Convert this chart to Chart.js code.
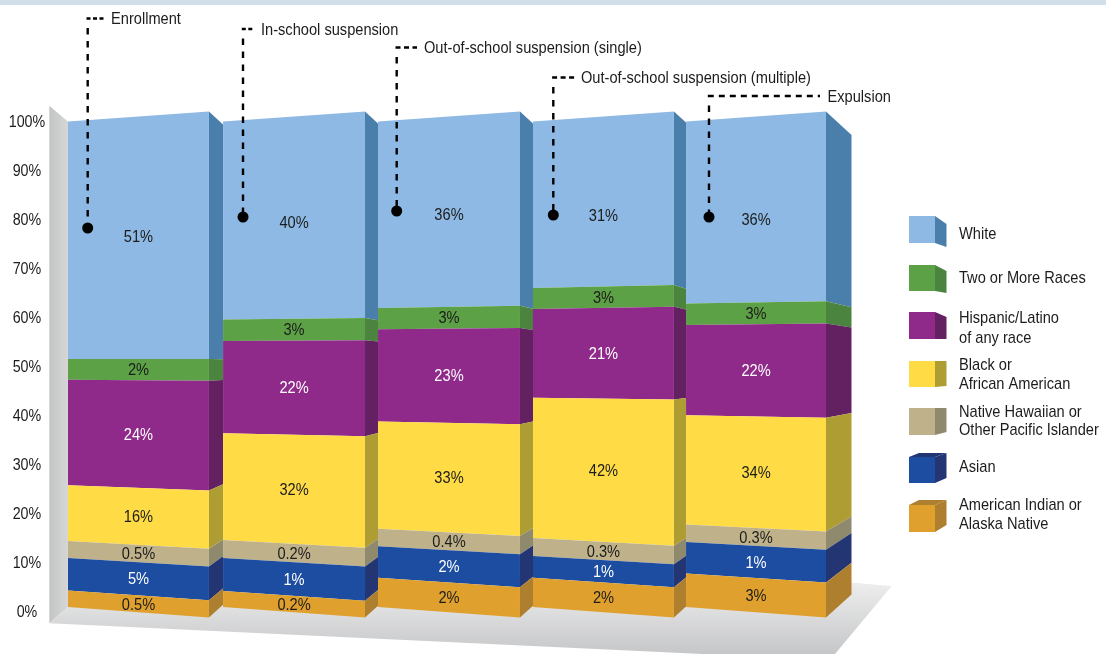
<!DOCTYPE html>
<html>
<head>
<meta charset="utf-8">
<style>
    html, body { margin: 0; padding: 0; background: #ffffff; }
    canvas { display: block; }
</style>
<script src="https://cdn.jsdelivr.net/npm/chart.js@4"></script>
</head>
<body>
<canvas id="chart" width="1106" height="654"></canvas>
<script>
const categories = ['Enrollment', 'In-school suspension', 'Out-of-school suspension (single)', 'Out-of-school suspension (multiple)', 'Expulsion'];

// drawn heights (the artwork does not follow its own printed percentages)
const americanIndian = [3.4, 3.3, 6.0, 6.0, 6.9];
const asian = [6.7, 6.8, 6.5, 4.5, 6.5];
const nativeHawaiian = [3.5, 3.7, 3.6, 3.7, 3.6];
const black = [11.5, 22.0, 22.1, 28.9, 22.5];
const hispanic = [21.7, 19.0, 19.0, 18.3, 18.6];
const twoOrMore = [4.3, 4.4, 4.4, 4.3, 4.4];
const white = [48.9, 40.8, 38.4, 34.3, 37.5];

// printed percentages
const americanIndianText = ['0.5%', '0.2%', '2%', '2%', '3%'];
const asianText = ['5%', '1%', '2%', '1%', '1%'];
const nativeHawaiianText = ['0.5%', '0.2%', '0.4%', '0.3%', '0.3%'];
const blackText = ['16%', '32%', '33%', '42%', '34%'];
const hispanicText = ['24%', '22%', '23%', '21%', '22%'];
const twoOrMoreText = ['2%', '3%', '3%', '3%', '3%'];
const whiteText = ['51%', '40%', '36%', '31%', '36%'];

const FONT = '"Liberation Sans", Arial, sans-serif';
const TEXT_SIZE = 17;
const TEXT_COLOR = '#1c1c1c';
const NARROW = 0.86; // no narrow face installed, so the text is squeezed
const TICK_NARROW = 0.84;

// perspective of the bars: where 100% and 0% land on the left, right and back edge
const LEFT_EDGE = [121.5, 607];
const RIGHT_EDGE = [111.5, 617.5];
const BACK_EDGE = [135, 594.5];
const DEPTH = 25.5;

// the artwork's bars are not quite evenly spaced, and its labels in the tall white block sit off centre
const barNudge = [0, 1, 1.4, 1.3, -0.7];
const barWiden = [0, 1, 1, 0, -1];
const whiteLabelShift = [-1, 5, 3, 14, 10];

function lerp(a, b, t) {
    return a + (b - a) * t;
}

function polygon(ctx, points, color) {
    ctx.beginPath();
    points.forEach(function (p, i) {
        if (i === 0) ctx.moveTo(p[0], p[1]);
        else ctx.lineTo(p[0], p[1]);
    });
    ctx.closePath();
    ctx.fillStyle = color;
    ctx.fill();
}

function narrowText(ctx, text, x, y) {
    ctx.save();
    ctx.translate(x, y);
    ctx.scale(NARROW, 1);
    ctx.fillText(text, 0, 0);
    ctx.restore();
}

Chart.BarElement.prototype.draw = function (ctx) {
    const area = this.seg.chart.chartArea;
    const t1 = (this.y - area.top) / (area.bottom - area.top);
    const t0 = (this.base - area.top) / (area.bottom - area.top);
    const x0 = this.x - this.width / 2;
    const x1 = this.x + this.width / 2;

    ctx.save();
    // the side face runs behind the next bar
    if (this.seg.next) {
        ctx.beginPath();
        ctx.rect(x1 - 1, 0, this.seg.next.x - this.seg.next.width / 2 - x1 + 1, 654);
        ctx.clip();
    }
    polygon(ctx, [
        [x1, lerp(RIGHT_EDGE[0], RIGHT_EDGE[1], t1)],
        [x1 + DEPTH, lerp(BACK_EDGE[0], BACK_EDGE[1], t1)],
        [x1 + DEPTH, lerp(BACK_EDGE[0], BACK_EDGE[1], t0)],
        [x1, lerp(RIGHT_EDGE[0], RIGHT_EDGE[1], t0)]
    ], this.seg.dataset.sideColor);
    ctx.restore();

    polygon(ctx, [
        [x0, lerp(LEFT_EDGE[0], LEFT_EDGE[1], t1)],
        [x1, lerp(RIGHT_EDGE[0], RIGHT_EDGE[1], t1)],
        [x1, lerp(RIGHT_EDGE[0], RIGHT_EDGE[1], t0)],
        [x0, lerp(LEFT_EDGE[0], LEFT_EDGE[1], t0)]
    ], this.options.backgroundColor);
};

// tick labels squeezed the same way, around the middle of the axis
const plainDrawLabels = Chart.Scale.prototype.drawLabels;
Chart.LinearScale.prototype.drawLabels = function (chartArea) {
    const ctx = this.ctx;
    ctx.save();
    ctx.translate(27, 1);
    ctx.scale(TICK_NARROW, 1);
    ctx.translate(-27, 0);
    plainDrawLabels.call(this, chartArea);
    ctx.restore();
};

const linkBars = {
    id: 'linkBars',
    afterDatasetsUpdate: function (chart) {
        chart.data.datasets.forEach(function (dataset, i) {
            const bars = chart.getDatasetMeta(i).data;
            bars.forEach(function (bar, j) {
                bar.x += barNudge[j];
                bar.width += barWiden[j];
                bar.seg = { chart: chart, dataset: dataset, next: bars[j + 1] };
            });
        });
    }
};

const backdrop = {
    id: 'backdrop',
    beforeDatasetsDraw: function (chart) {
        const ctx = chart.ctx;
        ctx.save();
        ctx.fillStyle = '#d0dfe9';
        ctx.fillRect(0, 0, 1106, 5);

        let wall = ctx.createLinearGradient(49, 0, 68, 0);
        wall.addColorStop(0, '#c3c4c5');
        wall.addColorStop(1, '#d6d6d6');
        polygon(ctx, [[49.3, 105.7], [68, 121.5], [68, 607], [49.3, 623.3]], wall);

        let floor = ctx.createLinearGradient(0, 585, 0, 654);
        floor.addColorStop(0, '#ececec');
        floor.addColorStop(1, '#c6c7c9');
        polygon(ctx, [[49.3, 623.3], [68, 607], [853, 582.7], [891.7, 586], [830, 660], [49.3, 623.3]], floor);
        ctx.restore();
    }
};

// dashed leader from a dot on the bar up to the bar's name
const calloutPos = [
    { x: 87.7, dotY: 228, topY: 18.5, endX: 104, textX: 111, dash: [4, 2.5] },
    { x: 243, dotY: 217, topY: 29, endX: 254, textX: 261, dash: [4, 2.5] },
    { x: 396.7, dotY: 211, topY: 47.5, endX: 417, textX: 424, dash: [5, 3.5] },
    { x: 553.3, dotY: 215, topY: 77.5, endX: 575, textX: 581, dash: [5, 3.5] },
    { x: 709, dotY: 217, topY: 96, endX: 820, textX: 827.5, dash: [6, 5] }
];

// front face and the way the side and top faces go, cube by cube
const cubes = [
    { y0: 216, y1: 243, backTop: 224, backBottom: 247 },
    { y0: 265, y1: 291, backTop: 271, backBottom: 293 },
    { y0: 312, y1: 339, backTop: 317, backBottom: 339 },
    { y0: 361, y1: 387, backTop: 361, backBottom: 386 },
    { y0: 408, y1: 435, backTop: 408, backBottom: 432 },
    { y0: 457, y1: 483, backTop: 453, backBottom: 478 },
    { y0: 505, y1: 532, backTop: 500, backBottom: 525 }
];
const legendTextY = [[234], [278], [318, 338], [365, 384], [412, 430], [467], [505, 524]];

const annotations = {
    id: 'annotations',
    afterDatasetsDraw: function (chart) {
        const ctx = chart.ctx;
        const area = chart.chartArea;
        ctx.save();
        ctx.font = TEXT_SIZE + 'px ' + FONT;
        ctx.textAlign = 'center';
        ctx.textBaseline = 'middle';

        // percentages on the bars
        chart.data.datasets.forEach(function (dataset, i) {
            chart.getDatasetMeta(i).data.forEach(function (bar, j) {
                const t1 = (bar.y - area.top) / (area.bottom - area.top);
                const t0 = (bar.base - area.top) / (area.bottom - area.top);
                const top = (lerp(LEFT_EDGE[0], LEFT_EDGE[1], t1) + lerp(RIGHT_EDGE[0], RIGHT_EDGE[1], t1)) / 2;
                const bottom = (lerp(LEFT_EDGE[0], LEFT_EDGE[1], t0) + lerp(RIGHT_EDGE[0], RIGHT_EDGE[1], t0)) / 2;
                const shift = dataset.printed === whiteText ? whiteLabelShift[j] : 0;
                ctx.fillStyle = dataset.textColor;
                narrowText(ctx, dataset.printed[j], bar.x, (top + bottom) / 2 + 1 + shift);
            });
        });

        // leaders
        ctx.textAlign = 'left';
        calloutPos.forEach(function (c, i) {
            ctx.strokeStyle = '#000000';
            ctx.lineWidth = 2.4;
            ctx.setLineDash([6.5, 6.5]);
            ctx.beginPath();
            ctx.moveTo(c.x, c.topY + 9.5);
            ctx.lineTo(c.x, c.dotY);
            ctx.stroke();
            ctx.setLineDash(c.dash);
            ctx.beginPath();
            ctx.moveTo(c.x - 1.2, c.topY);
            ctx.lineTo(c.endX, c.topY);
            ctx.stroke();
            ctx.setLineDash([]);
            ctx.fillStyle = '#000000';
            ctx.beginPath();
            ctx.arc(c.x, c.dotY, 5.5, 0, Math.PI * 2);
            ctx.fill();
            ctx.fillStyle = TEXT_COLOR;
            narrowText(ctx, categories[i], c.textX, c.topY + 1);
        });

        // legend, top of the stack first
        chart.data.datasets.slice().reverse().forEach(function (dataset, i) {
            const c = cubes[i];
            if (c.backTop < c.y0) {
                polygon(ctx, [[909, c.y0], [919, c.backTop], [946.5, c.backTop], [935, c.y0]], dataset.sideColor);
            }
            polygon(ctx, [[935, c.y0], [946.5, c.backTop], [946.5, c.backBottom], [935, c.y1]], dataset.sideColor);
            polygon(ctx, [[909, c.y0], [935, c.y0], [935, c.y1], [909, c.y1]], dataset.backgroundColor);
            ctx.fillStyle = TEXT_COLOR;
            dataset.label.split('\n').forEach(function (line, k) {
                narrowText(ctx, line, 959, legendTextY[i][k]);
            });
        });
        ctx.restore();
    }
};

function series(label, data, printed, color, sideColor, textColor) {
    return {
        label: label,
        data: data,
        printed: printed,
        backgroundColor: color,
        sideColor: sideColor,
        textColor: textColor,
        clip: false
    };
}

new Chart(document.getElementById('chart').getContext('2d'), {
    type: 'bar',
    data: {
        labels: categories,
        datasets: [
            series('American Indian or\nAlaska Native', americanIndian, americanIndianText, '#e0a02e', '#ae7f2e', TEXT_COLOR),
            series('Asian', asian, asianText, '#1c4da1', '#243574', '#ffffff'),
            series('Native Hawaiian or\nOther Pacific Islander', nativeHawaiian, nativeHawaiianText, '#bfb28b', '#8f8a6d', TEXT_COLOR),
            series('Black or\nAfrican American', black, blackText, '#ffdc45', '#ae9d33', TEXT_COLOR),
            series('Hispanic/Latino\nof any race', hispanic, hispanicText, '#8f2a8a', '#632162', '#ffffff'),
            series('Two or More Races', twoOrMore, twoOrMoreText, '#5ca145', '#4a843e', TEXT_COLOR),
            series('White', white, whiteText, '#8db9e4', '#4a7fab', TEXT_COLOR)
        ]
    },
    options: {
        responsive: false,
        animation: false,
        layout: {
            padding: { top: 121, bottom: 43, left: 0, right: 272 }
        },
        plugins: {
            legend: { display: false },
            tooltip: { enabled: false }
        },
        datasets: {
            bar: { barPercentage: 0.912, categoryPercentage: 1 }
        },
        scales: {
            x: {
                stacked: true,
                display: false
            },
            y: {
                stacked: true,
                min: 0,
                max: 100,
                afterFit: function (scale) {
                    scale.width = 61.2;
                },
                grid: { display: false, drawTicks: false },
                border: { display: false },
                ticks: {
                    stepSize: 10,
                    padding: 12.5,
                    crossAlign: 'center',
                    color: TEXT_COLOR,
                    font: { family: FONT, size: TEXT_SIZE },
                    callback: function (value) {
                        return value + '%';
                    }
                }
            }
        }
    },
    plugins: [linkBars, backdrop, annotations]
});
</script>
</body>
</html>
